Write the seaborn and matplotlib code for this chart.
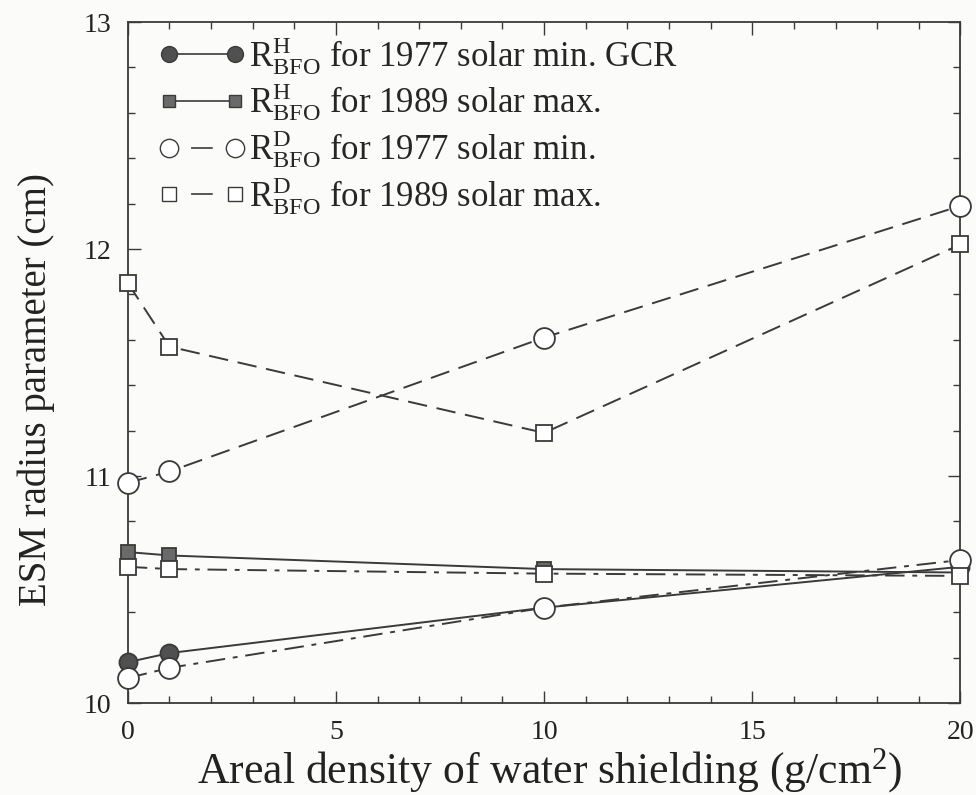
import matplotlib
matplotlib.use("Agg")
import matplotlib.pyplot as plt
from matplotlib.ticker import MultipleLocator
from matplotlib.lines import Line2D
import seaborn as sns

# Areal density of water shielding (g/cm^2)
shielding = [0, 1, 10, 20]

# ESM radius parameter (cm)
rh_1977_min = [10.18, 10.22, 10.42, 10.60]
rh_1989_max = [10.665, 10.65, 10.59, 10.575]
rd_1977_min = [10.97, 11.02, 11.61, 12.19]
rd_1989_max = [11.85, 11.57, 11.19, 12.02]
low_1977_min = [10.11, 10.155, 10.42, 10.63]
low_1989_max = [10.60, 10.59, 10.57, 10.56]

labels = [
    r"$\mathregular{R^{H}_{BFO}}$ for 1977 solar min. GCR",
    r"$\mathregular{R^{H}_{BFO}}$ for 1989 solar max.",
    r"$\mathregular{R^{D}_{BFO}}$ for 1977 solar min.",
    r"$\mathregular{R^{D}_{BFO}}$ for 1989 solar max.",
]

sns.set_theme(style="ticks")
plt.rcParams["font.family"] = ["Liberation Serif", "DejaVu Serif"]
plt.rcParams["mathtext.fontset"] = "custom"
plt.rcParams["mathtext.rm"] = "Liberation Serif"
plt.rcParams["mathtext.it"] = "Liberation Serif:italic"

ink = "#3a3a3a"
bg = "#fbfbfa"

fig = plt.figure(figsize=(9.76, 7.95), dpi=100, facecolor=bg)
ax = fig.add_axes([0.131, 0.1157, 0.853, 0.8566])
ax.set_facecolor(bg)

long_dash = (0, (10, 5))
dash_dot = (0, (10, 4, 2.5, 4))

common = dict(ax=ax, color=ink, linewidth=1.4, markeredgecolor=ink,
              markeredgewidth=1.3, legend=False, clip_on=False, zorder=3)

# solid lines, filled markers
sns.lineplot(x=shielding, y=rh_1977_min, marker="o", markersize=13,
             markerfacecolor="#505050", linestyle="-", **common)
sns.lineplot(x=shielding, y=rh_1989_max, marker="s", markersize=10,
             markerfacecolor="#6a6a6a", linestyle="-", **common)

# dash-dot lines, open markers
common["zorder"] = 4
sns.lineplot(x=shielding, y=low_1977_min, marker="o", markersize=15,
             markerfacecolor="white", linestyle=dash_dot, **common)
sns.lineplot(x=shielding, y=low_1989_max, marker="s", markersize=12,
             markerfacecolor="white", linestyle=dash_dot, **common)

# long-dashed lines, open markers
sns.lineplot(x=shielding, y=rd_1977_min, marker="o", markersize=15,
             markerfacecolor="white", linestyle=long_dash, **common)
sns.lineplot(x=shielding, y=rd_1989_max, marker="s", markersize=12,
             markerfacecolor="white", linestyle=long_dash, **common)

# legend keys: solid keys for the H series, a single centred dash for the D series
lines = ax.get_lines()
handles = [lines[0], lines[1], lines[4], lines[5]]
key_dash = (39.75, (13, 40))
key_styles = ["-", "-", key_dash, key_dash]
leg_handles = []
for h, ls in zip(handles, key_styles):
    leg_handles.append(Line2D([], [], color=ink, linewidth=1.2,
                              linestyle=ls,
                              marker=h.get_marker(),
                              markersize=h.get_markersize() * 0.88,
                              markerfacecolor=h.get_markerfacecolor(),
                              markeredgecolor=ink))
ax.legend(leg_handles, labels, loc="upper left", frameon=False,
          fontsize=25, numpoints=2, handlelength=2.5, handletextpad=0.1,
          labelspacing=0.14, borderaxespad=0.2,
          bbox_to_anchor=(0.012, 1.012))

ax.set_xlim(0, 20)
ax.set_ylim(10, 13)
ax.xaxis.set_major_locator(MultipleLocator(5))
ax.xaxis.set_minor_locator(MultipleLocator(1))
ax.yaxis.set_major_locator(MultipleLocator(1))
ax.yaxis.set_minor_locator(MultipleLocator(0.2))
ax.tick_params(which="both", direction="in", top=True, right=True,
               colors=ink, labelcolor="#222222", width=1.0)
ax.tick_params(which="major", length=9, labelsize=20, pad=12)
ax.tick_params(which="minor", length=5)
for s in ax.spines.values():
    s.set_color(ink)
    s.set_linewidth(1.3)

ax.set_xlabel(r"Areal density of water shielding (g/cm$\mathregular{^{2}}$)",
              fontsize=31.5, color="#222222")
ax.xaxis.set_label_coords(0.507, -0.064)
ax.set_ylabel("ESM radius parameter (cm)", fontsize=28, color="#222222")
ax.yaxis.set_label_coords(-0.088, 0.46)

fig.savefig("out.png", dpi=100, facecolor=bg)
